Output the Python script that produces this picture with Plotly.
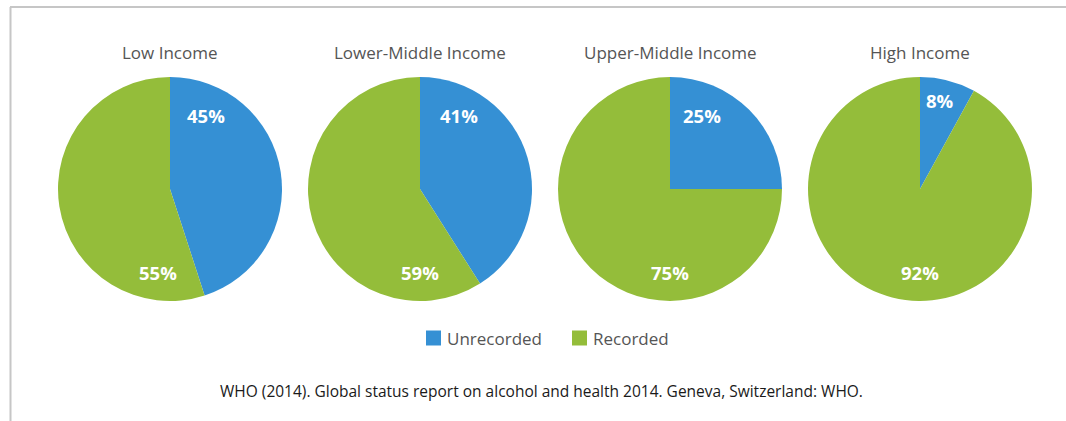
import plotly.graph_objects as go

W, H = 1066, 421

groups = ["Low Income", "Lower-Middle Income", "Upper-Middle Income", "High Income"]
categories = ["Unrecorded", "Recorded"]
unrecorded = [45, 41, 25, 8]
recorded = [55, 59, 75, 92]
footnote = "WHO (2014). Global status report on alcohol and health 2014. Geneva, Switzerland: WHO."

colors = ["#3590d4", "#94bd3a"]

# layout (pixels)
centers_x = [170, 420, 670, 920]
center_y = 189
radius = 112
top_label_dx = [36, 39, 32, 20]
top_label_y = [115, 115, 115, 100]
bottom_label_dx = [-12, 0, 0, 0]
bottom_label_y = 272
legend_sq_x = [426, 572]
legend_y = 338
sq = 15

FONT = "Open Sans"

def px(x):
    return x / W

def py(y):
    return 1 - y / H

fig = go.Figure()
for i, g in enumerate(groups):
    cx = centers_x[i]
    fig.add_trace(go.Pie(
        labels=categories,
        values=[unrecorded[i], recorded[i]],
        sort=False,
        direction="clockwise",
        rotation=0,
        textinfo="none",
        hoverinfo="label+percent",
        marker=dict(colors=colors, line=dict(width=0)),
        domain=dict(x=[px(cx - radius), px(cx + radius)],
                    y=[py(center_y + radius), py(center_y - radius)]),
        showlegend=False,
        name=g,
    ))

def ann(x, y, text, size, color, xanchor="center"):
    return dict(x=px(x), y=py(y), xref="paper", yref="paper", text=text,
                showarrow=False, xanchor=xanchor, yanchor="middle",
                font=dict(family=FONT, size=size, color=color))

annotations = []
shapes = []
for i, g in enumerate(groups):
    cx = centers_x[i]
    annotations.append(ann(cx, 53, g, 17, "#555555"))
    annotations.append(ann(cx + top_label_dx[i], top_label_y[i],
                           f"<b>{unrecorded[i]}%</b>", 18.5, "#ffffff"))
    annotations.append(ann(cx + bottom_label_dx[i], bottom_label_y,
                           f"<b>{recorded[i]}%</b>", 18.5, "#ffffff"))

# legend
for k, cat in enumerate(categories):
    x0 = legend_sq_x[k]
    shapes.append(dict(type="rect", xref="paper", yref="paper",
                       x0=px(x0), x1=px(x0 + sq), y0=py(legend_y + sq / 2), y1=py(legend_y - sq / 2),
                       fillcolor=colors[k], line=dict(width=0)))
    annotations.append(ann(x0 + sq + 4, legend_y, cat, 17, "#555555", xanchor="left"))

annotations.append(ann(541, 391, footnote, 15.5, "#1a1a1a"))

shapes += [
    dict(type="line", xref="paper", yref="paper", x0=px(10), x1=1, y0=py(7), y1=py(7),
         line=dict(color="#c6c6c6", width=2)),
    dict(type="line", xref="paper", yref="paper", x0=px(10.5), x1=px(10.5), y0=py(7), y1=0,
         line=dict(color="#c6c6c6", width=2)),
]

fig.update_layout(
    width=W, height=H,
    margin=dict(l=0, r=0, t=0, b=0),
    paper_bgcolor="white",
    plot_bgcolor="white",
    annotations=annotations,
    shapes=shapes,
    showlegend=False,
)

fig.write_html("out.html", config={"displayModeBar": False})

# remove default browser body margin so the figure sits at the page origin
with open("out.html", "r", encoding="utf-8") as f:
    html = f.read()
html = html.replace("<head>", "<head><style>html,body{margin:0;padding:0;overflow:hidden;}</style>", 1)
with open("out.html", "w", encoding="utf-8") as f:
    f.write(html)
